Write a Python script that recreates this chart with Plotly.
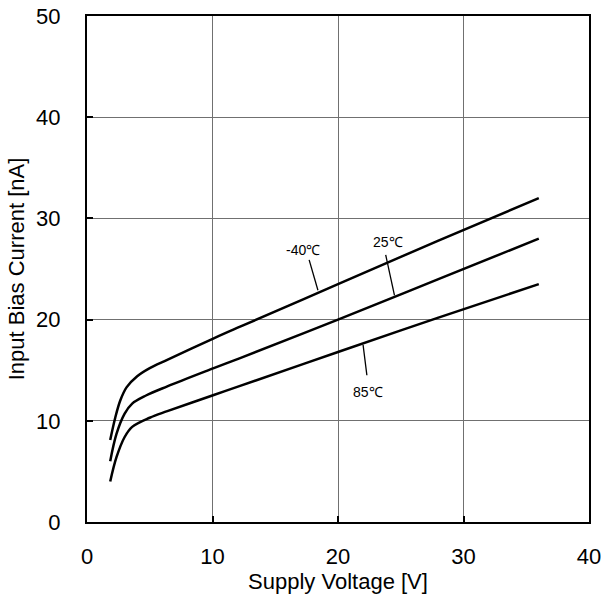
import plotly.graph_objects as go

# -40°C curve
v_m40 = [1.85, 2.25, 2.65, 3.15, 4.0, 5.0, 6.35, 10.1, 12.2, 20.0, 28.0, 36.0]
i_m40 = [8.1, 10.3, 12.0, 13.3, 14.4, 15.2, 16.0, 18.15, 19.3, 23.5, 27.8, 32.0]
# 25°C curve
v_25 = [1.85, 2.35, 3.0, 3.6, 4.7, 6.4, 10.1, 12.2, 20.0, 28.0, 36.0]
i_25 = [6.0, 8.7, 10.7, 11.7, 12.5, 13.4, 15.2, 16.2, 20.0, 24.0, 28.0]
# 85°C curve
v_85 = [1.85, 2.35, 3.0, 3.6, 5.0, 6.4, 10.1, 12.2, 20.0, 28.0, 36.0]
i_85 = [4.0, 6.4, 8.4, 9.4, 10.3, 10.95, 12.55, 13.45, 16.8, 20.2, 23.5]

labels = ["-40℃", "25℃", "85℃"]

FONT = "Liberation Sans, Arial, sans-serif"

fig = go.Figure()
for v, i, name in [(v_m40, i_m40, labels[0]), (v_25, i_25, labels[1]), (v_85, i_85, labels[2])]:
    fig.add_trace(go.Scatter(x=v, y=i, mode="lines", name=name,
                             line=dict(color="black", width=2.5, shape="spline", smoothing=1.0),
                             showlegend=False))

# label annotations with leader lines
ann = [
    (labels[0], 17.2, 26.9, (17.7, 25.9, 18.4, 22.9)),
    (labels[1], 24.0, 27.7, (23.8, 26.4, 24.5, 22.4)),
    (labels[2], 22.4, 12.8, (22.0, 17.5, 22.3, 14.5)),
]
for text, ax, ay, (x0, y0, x1, y1) in ann:
    fig.add_annotation(x=ax, y=ay, text=text, showarrow=False,
                       font=dict(family=FONT, size=14, color="black"))
    fig.add_shape(type="line", x0=x0, y0=y0, x1=x1, y1=y1, xref="x", yref="y",
                  line=dict(color="black", width=1.3))

axis_common = dict(
    showline=True, linecolor="black", linewidth=2, mirror=True,
    showgrid=True, gridcolor="#707070", gridwidth=1,
    ticks="inside", ticklen=6, tickwidth=2, tickcolor="black",
    tickfont=dict(family=FONT, size=22, color="black"),
    zeroline=False,
)

fig.update_xaxes(range=[0, 40], dtick=10, tick0=0,
                 title=dict(text="Supply Voltage [V]", standoff=0,
                            font=dict(family=FONT, size=22, color="black")),
                 ticklabelstandoff=14, **axis_common)
fig.update_yaxes(range=[0, 50], dtick=10, tick0=0,
                 title=dict(text="Input Bias Current [nA]", standoff=5,
                            font=dict(family=FONT, size=22, color="black")),
                 ticklabelstandoff=20, **axis_common)

fig.update_layout(
    width=605, height=596,
    margin=dict(l=87, r=16, t=16, b=74, autoexpand=False),
    plot_bgcolor="white", paper_bgcolor="white",
    font=dict(family=FONT, color="black"),
)

fig.write_html("out.html", config={"displayModeBar": False},
               post_script="document.body.style.margin='0';")
